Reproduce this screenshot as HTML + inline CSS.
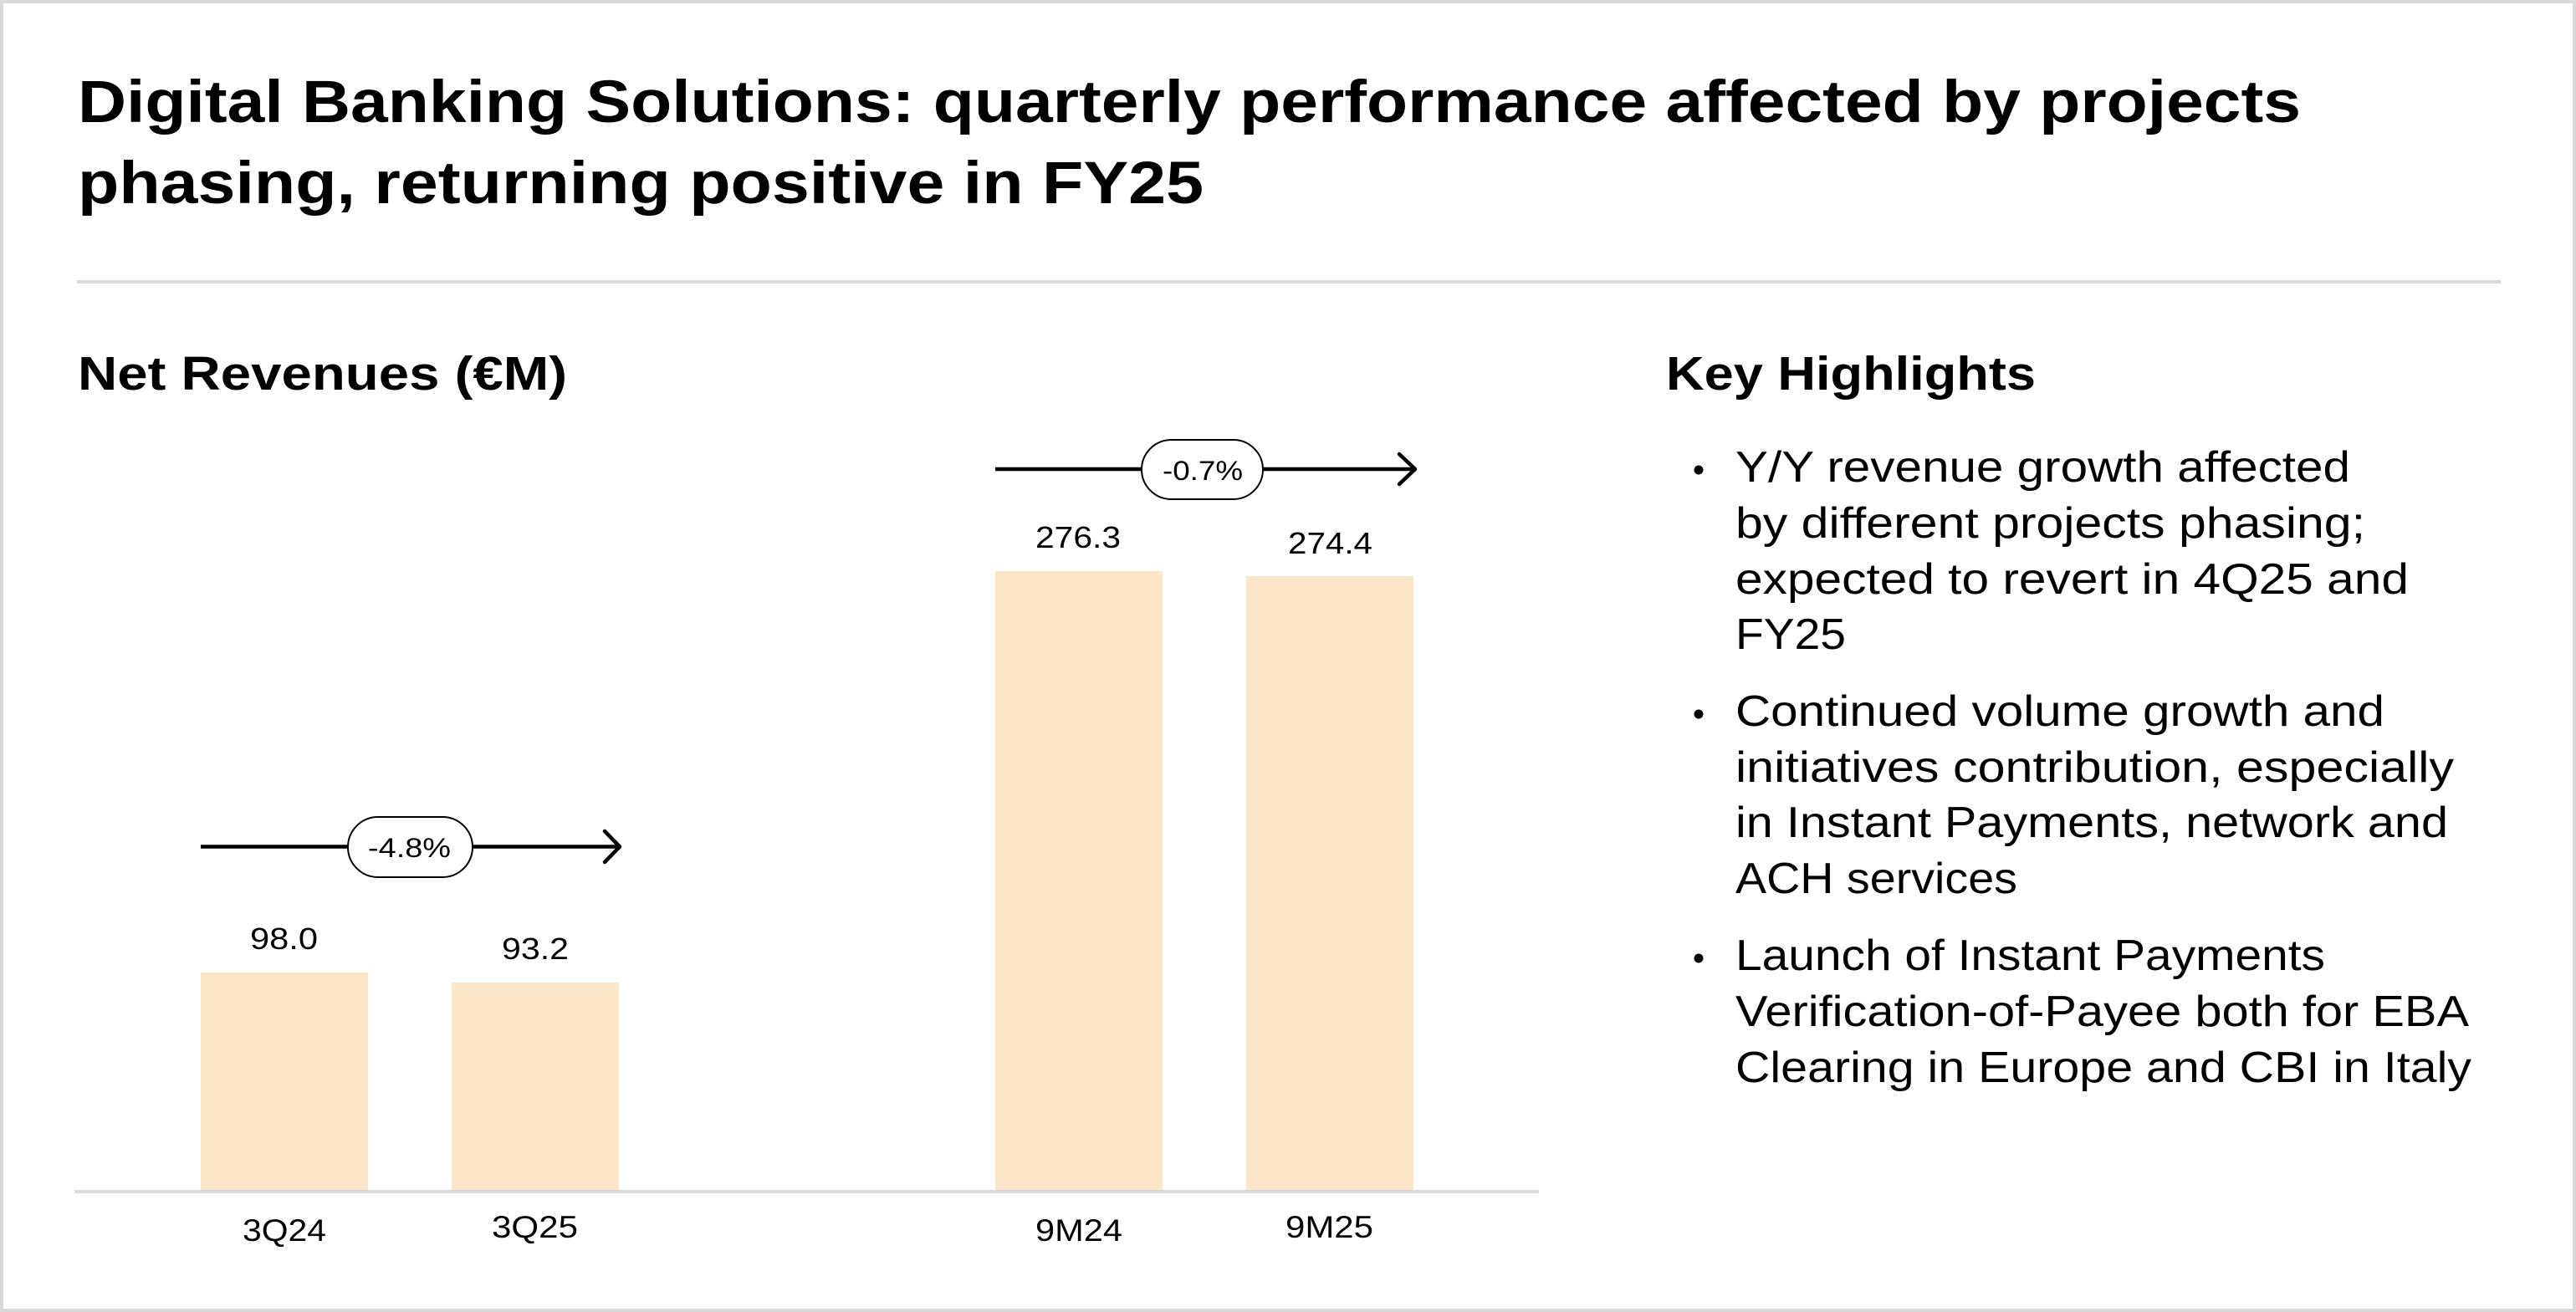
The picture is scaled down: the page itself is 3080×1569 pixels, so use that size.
<!DOCTYPE html>
<html>
<head>
<meta charset="utf-8">
<style>
  html, body { margin: 0; padding: 0; background: #fff; }
  svg { display: block; }
  text { font-family: "Liberation Sans", Arial, sans-serif; fill: #000; }
  .b { font-weight: bold; }
</style>
</head>
<body>
<svg width="3080" height="1569" viewBox="0 0 3080 1569" xmlns="http://www.w3.org/2000/svg">
  <!-- frame -->
  <rect x="2" y="2" width="3076" height="1565" fill="#ffffff" stroke="#d9d9d9" stroke-width="4"/>

  <!-- title -->
  <text class="b" x="93" y="146" font-size="71" textLength="2658" lengthAdjust="spacingAndGlyphs">Digital Banking Solutions: quarterly performance affected by projects</text>
  <text class="b" x="93" y="243" font-size="71" textLength="1346" lengthAdjust="spacingAndGlyphs">phasing, returning positive in FY25</text>

  <!-- separator -->
  <rect x="92" y="335" width="2898" height="4" fill="#d9d9d9"/>

  <!-- section headings -->
  <text class="b" x="93" y="466" font-size="57" textLength="585" lengthAdjust="spacingAndGlyphs">Net Revenues (€M)</text>
  <text class="b" x="1992" y="466" font-size="57" textLength="442" lengthAdjust="spacingAndGlyphs">Key Highlights</text>

  <!-- bars -->
  <rect x="240" y="1163" width="200" height="261" fill="#fce6c8"/>
  <rect x="540" y="1175" width="200" height="249" fill="#fce6c8"/>
  <rect x="1190" y="683" width="200" height="741" fill="#fce6c8"/>
  <rect x="1490" y="689" width="200" height="735" fill="#fce6c8"/>

  <!-- axis -->
  <rect x="89" y="1423" width="1751" height="4" fill="#dadada"/>

  <!-- value labels -->
  <text x="299" y="1135" font-size="36" textLength="81" lengthAdjust="spacingAndGlyphs">98.0</text>
  <text x="600" y="1147" font-size="36" textLength="80" lengthAdjust="spacingAndGlyphs">93.2</text>
  <text x="1238" y="655" font-size="36" textLength="102" lengthAdjust="spacingAndGlyphs">276.3</text>
  <text x="1540" y="662" font-size="36" textLength="101" lengthAdjust="spacingAndGlyphs">274.4</text>

  <!-- category labels -->
  <text x="290" y="1484" font-size="37" textLength="100" lengthAdjust="spacingAndGlyphs">3Q24</text>
  <text x="588" y="1480" font-size="37" textLength="103" lengthAdjust="spacingAndGlyphs">3Q25</text>
  <text x="1238" y="1484" font-size="37" textLength="104" lengthAdjust="spacingAndGlyphs">9M24</text>
  <text x="1537" y="1480" font-size="37" textLength="105" lengthAdjust="spacingAndGlyphs">9M25</text>

  <!-- arrow 1 (-4.8%) -->
  <line x1="240" y1="1012.5" x2="739" y2="1012.5" stroke="#000" stroke-width="4.5"/>
  <polyline points="723,994 741,1012.5 723,1031" fill="none" stroke="#000" stroke-width="4.5" stroke-linecap="round" stroke-linejoin="round"/>
  <rect x="416" y="977" width="149" height="72" rx="36" ry="36" fill="#fff" stroke="#000" stroke-width="2"/>
  <text x="440" y="1025" font-size="32" textLength="99" lengthAdjust="spacingAndGlyphs">-4.8%</text>

  <!-- arrow 2 (-0.7%) -->
  <line x1="1190" y1="561" x2="1690" y2="561" stroke="#000" stroke-width="4.5"/>
  <polyline points="1673,543 1692,561 1673,579" fill="none" stroke="#000" stroke-width="4.5" stroke-linecap="round" stroke-linejoin="round"/>
  <rect x="1365" y="526" width="145" height="71" rx="35.5" ry="35.5" fill="#fff" stroke="#000" stroke-width="2"/>
  <text x="1390" y="574" font-size="32" textLength="96" lengthAdjust="spacingAndGlyphs">-0.7%</text>

  <!-- bullets -->
  <circle cx="2031" cy="562" r="5.5" fill="#000"/>
  <circle cx="2031" cy="854" r="5.5" fill="#000"/>
  <circle cx="2031" cy="1146" r="5.5" fill="#000"/>

  <!-- bullet 1 -->
  <text x="2075" y="576" font-size="52" textLength="735" lengthAdjust="spacingAndGlyphs">Y/Y revenue growth affected</text>
  <text x="2075" y="643" font-size="52" textLength="753" lengthAdjust="spacingAndGlyphs">by different projects phasing;</text>
  <text x="2075" y="710" font-size="52" textLength="805" lengthAdjust="spacingAndGlyphs">expected to revert in 4Q25 and</text>
  <text x="2075" y="776" font-size="52" textLength="132" lengthAdjust="spacingAndGlyphs">FY25</text>

  <!-- bullet 2 -->
  <text x="2075" y="868" font-size="52" textLength="776" lengthAdjust="spacingAndGlyphs">Continued volume growth and</text>
  <text x="2075" y="935" font-size="52" textLength="859" lengthAdjust="spacingAndGlyphs">initiatives contribution, especially</text>
  <text x="2075" y="1001" font-size="52" textLength="852" lengthAdjust="spacingAndGlyphs">in Instant Payments, network and</text>
  <text x="2075" y="1068" font-size="52" textLength="337" lengthAdjust="spacingAndGlyphs">ACH services</text>

  <!-- bullet 3 -->
  <text x="2075" y="1160" font-size="52" textLength="705" lengthAdjust="spacingAndGlyphs">Launch of Instant Payments</text>
  <text x="2075" y="1227" font-size="52" textLength="877" lengthAdjust="spacingAndGlyphs">Verification-of-Payee both for EBA</text>
  <text x="2075" y="1294" font-size="52" textLength="880" lengthAdjust="spacingAndGlyphs">Clearing in Europe and CBI in Italy</text>
</svg>
</body>
</html>
